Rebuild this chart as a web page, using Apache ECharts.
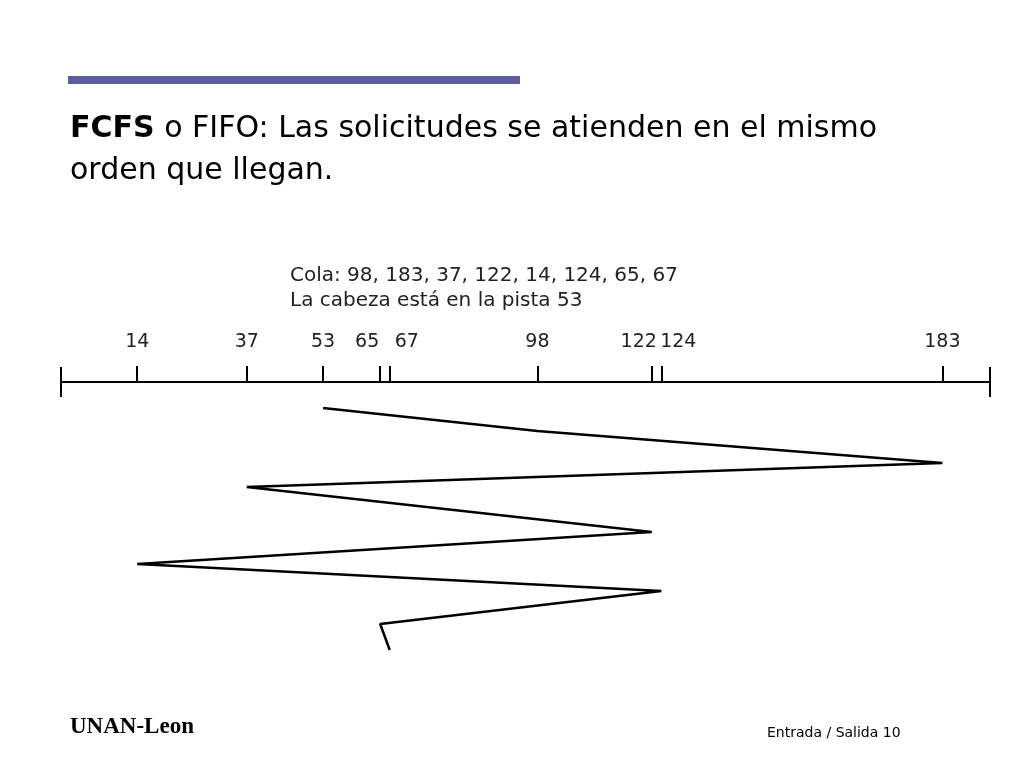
<!DOCTYPE html><html><head><meta charset="utf-8"><script src="https://cdn.jsdelivr.net/npm/echarts@6/dist/echarts.min.js"></script>
<style>html,body{margin:0;background:#fff}#c{width:1024px;height:768px}</style></head><body><div id="c"></div><script>
const tracks=[14,37,53,65,67,98,122,124,183];
const order=[53,98,183,37,122,14,124,65,67];
const steps=[0,23,55,79,124,156,183,216,242];
const queueText='Cola: 98, 183, 37, 122, 14, 124, 65, 67';
const headText='La cabeza está en la pista 53';
const chart=echarts.init(document.getElementById('c'));
const F='DejaVu Sans';
chart.setOption({
animation:false,
grid:[{left:61,right:34,top:300,height:82},{left:61,right:34,top:408,height:242}],
xAxis:[{gridIndex:0,type:'value',min:-2,max:193,splitLine:{show:false},
 axisLine:{lineStyle:{color:'#000',width:2}},
 axisTick:{show:true,inside:true,length:16,customValues:tracks,lineStyle:{color:'#000',width:2}},
 axisLabel:{customValues:tracks,inside:true,margin:30,fontSize:19,color:'#222',fontFamily:F,
  formatter:v=>(v===65||v===122)?'{l|'+v+'}':(v===67||v===124)?'{r|'+v+'}':String(v),
  rich:{l:{fontSize:19,fontFamily:F,color:'#222',padding:[0,26,0,0]},r:{fontSize:19,fontFamily:F,color:'#222',padding:[0,0,0,34]}}}},
 {gridIndex:1,type:'value',min:-2,max:193,show:false}],
yAxis:[{gridIndex:0,type:'value',show:false},{gridIndex:1,type:'value',min:0,max:242,inverse:true,show:false}],
series:[{type:'line',xAxisIndex:1,yAxisIndex:1,data:order.map((v,i)=>[v,steps[i]]),symbol:'none',lineStyle:{color:'#000',width:2.5}}],
graphic:[
 {type:'rect',shape:{x:68,y:76,width:452,height:8},style:{fill:'#5c5c9e'}},
 {type:'text',left:70,top:108,style:{text:'{b|FCFS} o FIFO: Las solicitudes se atienden en el mismo\norden que llegan.',font:'30px '+F,fill:'#000',lineHeight:42,rich:{b:{fontWeight:'bold',fontSize:30,fontFamily:F}}}},
 {type:'text',left:290,top:263,style:{text:queueText+'\n'+headText,font:'20px '+F,fill:'#222',lineHeight:25}},
 {type:'line',shape:{x1:61,y1:367,x2:61,y2:397},style:{stroke:'#000',lineWidth:2}},
 {type:'line',shape:{x1:990,y1:367,x2:990,y2:397},style:{stroke:'#000',lineWidth:2}},
 {type:'text',left:70,top:716,style:{text:'UNAN-Leon',font:'bold 23px Liberation Serif',fill:'#000'}},
 {type:'text',left:767,top:726,style:{text:'Entrada / Salida 10',font:'14px '+F,fill:'#000'}}
]});
</script></body></html>
